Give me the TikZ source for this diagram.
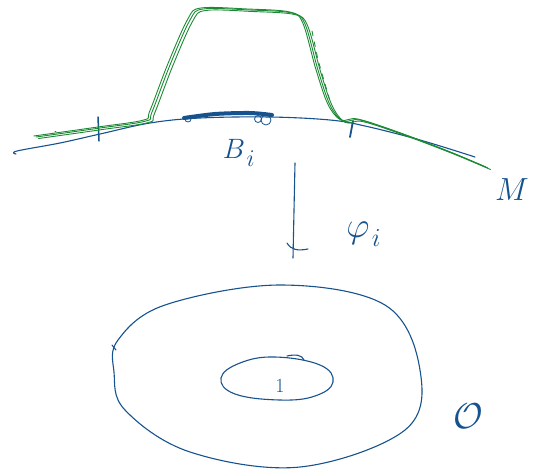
\RequirePackage{fix-cm}
\documentclass[tikz,border=0pt]{standalone}
\usepackage{amsmath,amssymb}
\usepackage{tikz}
\usetikzlibrary{positioning,calc}
\definecolor{inkblue}{RGB}{22,82,142}
\definecolor{inkgreen}{RGB}{28,138,52}
\tikzset{
  pen/.style={draw=inkblue, line width=1.1pt, line cap=round, line join=round},
  greenpen/.style={draw=inkgreen, line width=0.9pt, line cap=round, line join=round},
  lbl/.style={text=inkblue, inner sep=0pt}
}

\begin{document}
\begin{tikzpicture}[x=1pt,y=-1pt]
  \useasboundingbox (0,0) rectangle (543,475);
  % the manifold M
  \draw[pen] plot[smooth, tension=0.6] coordinates {(16,154) (17,151) (60,143) (100,134) (150,123) (200,118) (270,117) (330,120) (365,126) (420,140) (475,157)};
  % the patch B_i (thick)
  \draw[pen, line width=4pt] plot[smooth] coordinates {(184,118) (215,114) (250,113) (272,115)};
  \draw[pen, line width=0.8pt] (188,119) circle (3);
  \draw[pen, line width=0.8pt] (266,120) circle (5);
  \draw[pen, line width=0.8pt] (258,119) circle (3.5);
  % ticks
  \draw[pen, line width=1.5pt] (98,117) -- (99,141);
  \draw[pen, line width=1.8pt] (353,121) -- (350,137);
  % the green bump, several strokes
  \foreach \d/\e in {0/0,2.5/1.5,-2.2/-1}
    \draw[greenpen, shift={(\d,\e)}] plot[smooth, tension=0.55] coordinates {(36,137) (100,128) (146,121) (152,112) (170,65) (190,20) (203,9) (250,10) (292,13) (305,24) (318,70) (330,105) (343,121) (360,120) (400,133) (450,152) (488,168)};
  \draw[greenpen, dashed, dash pattern=on 5pt off 6pt] (312,31) -- (318,60) -- (330,101);
  \draw[greenpen] (55,131) -- (56,131);
  % the chart phi_i
  \coordinate (phiTop) at (295,163);
  \coordinate (phiBot) at (293,258);
  \draw[pen] (phiTop) -- (phiBot);
  \draw[pen] (287,243) .. controls (291,250) and (298,251) .. (308,249);
  % labels
  \node[lbl, font=\fontsize{28}{30}\selectfont] (Blab) at (234,149) {$B$};
  \node[lbl, font=\fontsize{24}{26}\selectfont, anchor=north west] (Bi) at ($(Blab.south east)+(1,-8)$) {$i$};
  \node[lbl, font=\fontsize{36}{38}\selectfont] (phi) at (358,233) {$\varphi$};
  \node[lbl, font=\fontsize{26}{28}\selectfont, anchor=south west] (phii) at ($(phi.south east)+(2,2)$) {$i$};
  \node[lbl, font=\fontsize{32}{34}\selectfont] (M) at (512,190) {$M$};
  % the domain and its hole
  \draw[pen] plot[smooth cycle, tension=0.6] coordinates {(118,340) (165,305) (280,285) (385,305) (420,370) (405,430) (300,467) (190,452) (125,410) (114,372)};
  \draw[pen] (112,345) -- (116,350);
  \draw[pen] plot[smooth cycle, tension=0.7] coordinates {(221,378) (240,363) (275,357) (320,365) (333,382) (315,396) (280,400) (235,394)};
  \draw[pen] (287,356) .. controls (296,354) and (302,355) .. (304,360);
  \node[lbl, font=\fontsize{20}{22}\selectfont] (one) at (280,386) {1};
  \node[lbl, font=\fontsize{36}{38}\selectfont] (O) at (468,416) {$\mathcal{O}$};
\end{tikzpicture}
\end{document}
